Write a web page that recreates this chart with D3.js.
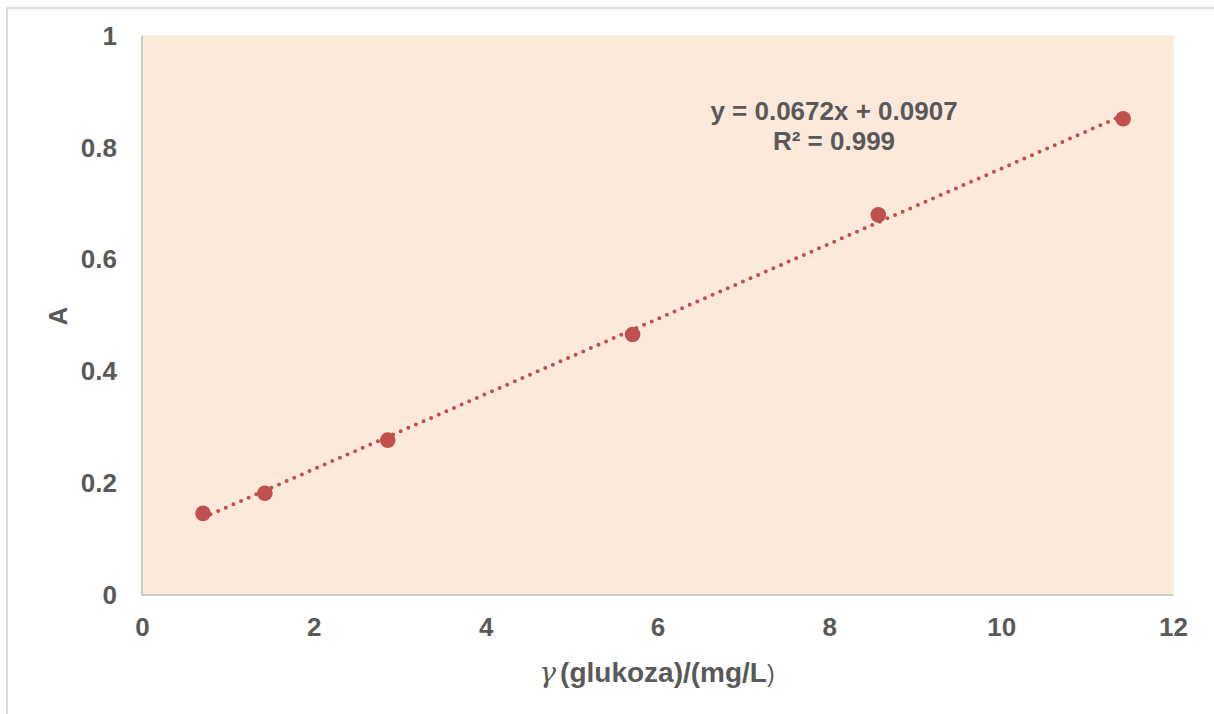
<!DOCTYPE html>
<html><head><meta charset="utf-8">
<script src="https://cdn.jsdelivr.net/npm/d3@7"></script>
<style>body{margin:0;background:#fff;} svg{display:block;}</style>
</head><body>
<svg id="c" width="1214" height="714"></svg>
<script>
const xValues = [0.71, 1.43, 2.86, 5.71, 8.57, 11.42];
const yValues = [0.146, 0.182, 0.277, 0.466, 0.680, 0.852];
const xTicks = [0, 2, 4, 6, 8, 10, 12];
const yTicks = [0, 0.2, 0.4, 0.6, 0.8, 1];
const slope = 0.0672, intercept = 0.0907;
const eqLines = ["y = 0.0672x + 0.0907", "R² = 0.999"];
const xTitle = "(glukoza)/(mg/L";
const yTitle = "A";

const svg = d3.select("#c");
const font = "'Liberation Sans', Arial, sans-serif";
const grey = "#595959";
const fs = 26;
const L = 142, R = 1173, T = 36, B = 595;
const x = d3.scaleLinear().domain([0, 12]).range([L, R]);
const y = d3.scaleLinear().domain([0, 1]).range([B, T]);

svg.append("rect").attr("x", 7).attr("y", 8).attr("width", 1230).attr("height", 730)
  .attr("fill", "none").attr("stroke", "#d9d9d9").attr("stroke-width", 2);

svg.append("rect").attr("x", L).attr("y", T).attr("width", R - L).attr("height", B - T)
  .attr("fill", "#fce9db").attr("stroke", "#eef0e0").attr("stroke-width", 1.5);

svg.append("line").attr("x1", L).attr("x2", L).attr("y1", T).attr("y2", B)
  .attr("stroke", "#bfbfbf").attr("stroke-width", 1.5);
svg.append("line").attr("x1", L).attr("x2", R).attr("y1", B).attr("y2", B)
  .attr("stroke", "#bfbfbf").attr("stroke-width", 1.5);

const xAxis = d3.axisBottom(x).tickValues(xTicks).tickSize(0).tickPadding(0).tickFormat(d3.format("d"));
const gx = svg.append("g").attr("transform", `translate(0,${B + 22.5})`).call(xAxis);
gx.select(".domain").remove();
gx.selectAll("text").attr("fill", grey).attr("font-family", font).attr("font-size", fs).attr("font-weight", "bold");

const yAxis = d3.axisLeft(y).tickValues(yTicks).tickSize(0).tickPadding(0).tickFormat(d => d === 0 || d === 1 ? String(d) : d.toFixed(1));
const gy = svg.append("g").attr("transform", `translate(${L - 25},0)`).call(yAxis);
gy.select(".domain").remove();
gy.selectAll("text").attr("fill", grey).attr("font-family", font).attr("font-size", fs).attr("font-weight", "bold");

const xMin = d3.min(xValues), xMax = d3.max(xValues);
svg.append("line")
  .attr("x1", x(xMin)).attr("y1", y(slope * xMin + intercept))
  .attr("x2", x(xMax)).attr("y2", y(slope * xMax + intercept))
  .attr("stroke", "#c0504d").attr("stroke-width", 4).attr("stroke-dasharray", "0 8.3").attr("stroke-linecap", "round");

svg.selectAll("circle.pt").data(xValues.map((v, i) => [v, yValues[i]])).enter()
  .append("circle").attr("class", "pt")
  .attr("cx", d => x(d[0])).attr("cy", d => y(d[1])).attr("r", 7.8).attr("fill", "#c0504d");

svg.selectAll("text.eq").data(eqLines).enter().append("text").attr("class", "eq")
  .attr("x", 834).attr("y", (d, i) => 119.5 + i * 30).attr("text-anchor", "middle")
  .attr("fill", grey).attr("font-family", font).attr("font-size", fs).attr("font-weight", "bold")
  .text(d => d);

const xt = svg.append("text").attr("x", 657).attr("y", 682).attr("text-anchor", "middle")
  .attr("fill", grey).attr("font-family", font).attr("font-size", 28).attr("font-weight", "bold");
xt.append("tspan").attr("font-family", "'DejaVu Serif', 'Liberation Serif', serif").attr("font-style", "italic").attr("font-weight", "normal").text("γ");
xt.append("tspan").attr("dx", 4).text(xTitle);
xt.append("tspan").attr("font-weight", "normal").attr("font-size", 23).text(")");

svg.append("text").attr("transform", "translate(67,316) rotate(-90)").attr("text-anchor", "middle")
  .attr("fill", grey).attr("font-family", font).attr("font-size", fs).attr("font-weight", "bold").text(yTitle);
</script>
</body></html>
